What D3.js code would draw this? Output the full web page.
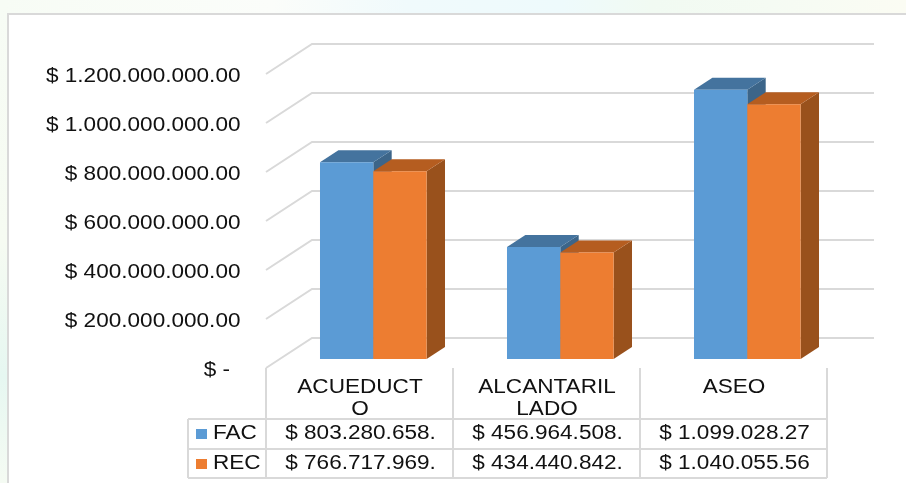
<!DOCTYPE html>
<html>
<head>
<meta charset="utf-8">
<script src="https://cdn.jsdelivr.net/npm/d3@7/dist/d3.min.js"></script>
<style>
  html, body { margin: 0; padding: 0; background: #fff; overflow: hidden; }
  svg { display: block; filter: blur(0.6px); }
  text { font-family: "Liberation Sans", Arial, sans-serif; font-size: 21px; fill: #111; }
</style>
</head>
<body>
<div id="chart"></div>
<script>
/** Chart data */
const categories = ["ACUEDUCTO", "ALCANTARILLADO", "ASEO"];
const categoryLines = [["ACUEDUCT", "O"], ["ALCANTARIL", "LADO"], ["ASEO"]];
const seriesNames = ["FAC", "REC"];
const facValues = [803280658, 456964508, 1099028270];
const recValues = [766717969, 434440842, 1040055560];
const facLabels = ["$ 803.280.658.", "$ 456.964.508.", "$ 1.099.028.27"];
const recLabels = ["$ 766.717.969.", "$ 434.440.842.", "$ 1.040.055.56"];
const yTicks = [0, 200000000, 400000000, 600000000, 800000000, 1000000000, 1200000000];
const yTickLabels = ["$ -", "$ 200.000.000.00", "$ 400.000.000.00", "$ 600.000.000.00", "$ 800.000.000.00", "$ 1.000.000.000.00", "$ 1.200.000.000.00"];

/** Graph configs */
const width = 906;
const height = 483;
const floorLeft = 266;
const floorRight = 827;
const floorY = 368;
const topY = 74;
const depthX = 46;
const depthY = 30;
const barDepthStart = 0.3;
const barDepthEnd = 0.7;
const textStretch = 1.075; // the picture is a bit wider than tall
const gridColor = "#d9d9d9";

const colors = {
  FAC: { front: "#5b9bd5", top: "#44739e", side: "#3c6589" },
  REC: { front: "#ed7d31", top: "#b55d20", side: "#99511c" },
};

const seriesValues = { FAC: facValues, REC: recValues };
const seriesLabels = { FAC: facLabels, REC: recLabels };

/** Scales */
const xScale = d3.scaleBand().domain(categories).range([floorLeft, floorRight]);
const xInner = d3
  .scaleBand()
  .domain(seriesNames)
  .range([0, xScale.bandwidth()])
  .paddingInner(0)
  .paddingOuter(0.754);
const yScale = d3.scaleLinear().domain([0, 1200000000]).range([floorY, topY]);

/** Project a point on the floor to a given depth (0 = front, 1 = back wall) */
const project = (x, y, z) => [x + depthX * z, y - depthY * z];

const svg = d3
  .select("#chart")
  .append("svg")
  .attr("width", width)
  .attr("height", height);

/** Washed out page background */
const defs = svg.append("defs");
const topWash = defs.append("linearGradient").attr("id", "top-wash");
[
  [0, "#f7fcf5"],
  [0.3, "#fbfdfa"],
  [0.45, "#f0fafc"],
  [0.62, "#eefafc"],
  [0.72, "#f1faf2"],
  [0.85, "#f5fbf3"],
  [1, "#fbfcf3"],
].forEach(([o, c]) => topWash.append("stop").attr("offset", o).attr("stop-color", c));
const leftWash = defs
  .append("linearGradient")
  .attr("id", "left-wash")
  .attr("x1", 0)
  .attr("x2", 0)
  .attr("y1", 0)
  .attr("y2", 1);
[
  [0, "#f7fcf5"],
  [0.5, "#f6fbf2"],
  [0.78, "#e6f7f1"],
  [1, "#f5fbf3"],
].forEach(([o, c]) => leftWash.append("stop").attr("offset", o).attr("stop-color", c));

svg.append("rect").attr("width", width).attr("height", 14).attr("fill", "url(#top-wash)");
svg.append("rect").attr("width", 8).attr("height", height).attr("fill", "url(#left-wash)");

/** Chart frame, runs off the right and bottom of the picture */
svg
  .append("rect")
  .attr("x", 8)
  .attr("y", 14)
  .attr("width", width + 20)
  .attr("height", height + 20)
  .attr("fill", "#fff")
  .attr("stroke", gridColor)
  .attr("stroke-width", 2);

/** Text helper, stretches horizontally around the anchor */
const addText = (parent, x, y, str, anchor = "middle") =>
  parent
    .append("text")
    .attr("transform", `translate(${x},${y}) scale(${textStretch},1)`)
    .attr("text-anchor", anchor)
    .text(str);

/** Gridlines: side wall stub then back wall */
const line = d3.line();
svg
  .append("g")
  .selectAll("path")
  .data(yTicks)
  .enter()
  .append("path")
  .attr("fill", "none")
  .attr("stroke", gridColor)
  .attr("stroke-width", 2)
  .attr("d", (d) =>
    line([
      [floorLeft, yScale(d)],
      project(floorLeft, yScale(d), 1),
      project(floorRight + 1, yScale(d), 1),
    ])
  );

/** Y axis labels */
const yLabels = svg.append("g");
yTicks.forEach((tick, i) => {
  const right = tick === 0 ? 230 : 240.5;
  addText(yLabels, right, yScale(tick) + 7.5, yTickLabels[i], "end");
});

/** Bars, FAC first so that REC overlaps it */
const face = (x0, x1, y0, y1, z0, z1) =>
  line([project(x0, y0, z0), project(x1, y1, z0), project(x1, y1, z1), project(x0, y0, z1)]) + "Z";

seriesNames.forEach((name) => {
  const barData = categories.map((c, i) => ({ c, value: seriesValues[name][i] }));
  const left = (d) => xScale(d.c) + xInner(name);
  const right = (d) => left(d) + xInner.bandwidth();
  const g = svg.append("g").selectAll("g").data(barData).enter().append("g");

  /** Right side */
  g.append("path")
    .attr("fill", colors[name].side)
    .attr("d", (d) =>
      line([
        project(right(d), yScale(0), barDepthStart),
        project(right(d), yScale(0), barDepthEnd),
        project(right(d), yScale(d.value), barDepthEnd),
        project(right(d), yScale(d.value), barDepthStart),
      ]) + "Z"
    );

  /** Top */
  g.append("path")
    .attr("fill", colors[name].top)
    .attr("d", (d) =>
      face(left(d), right(d), yScale(d.value), yScale(d.value), barDepthStart, barDepthEnd)
    );

  /** Front */
  g.append("path")
    .attr("fill", colors[name].front)
    .attr("d", (d) =>
      line([
        project(left(d), yScale(0), barDepthStart),
        project(right(d), yScale(0), barDepthStart),
        project(right(d), yScale(d.value), barDepthStart),
        project(left(d), yScale(d.value), barDepthStart),
      ]) + "Z"
    );
});

/** Data table */
const tableLeft = 188;
const rowTops = [419, 449, 478];
const table = svg.append("g");

const addRule = (x1, y1, x2, y2) =>
  table
    .append("line")
    .attr("x1", x1)
    .attr("y1", y1)
    .attr("x2", x2)
    .attr("y2", y2)
    .attr("stroke", gridColor)
    .attr("stroke-width", 2);

rowTops.forEach((y) => addRule(tableLeft, y, floorRight, y));
addRule(tableLeft, rowTops[0], tableLeft, rowTops[2]);
addRule(floorLeft, floorY, floorLeft, rowTops[2]);
categories.forEach((c) => addRule(xScale(c) + xScale.step(), floorY, xScale(c) + xScale.step(), rowTops[2]));

categories.forEach((c, i) => {
  const cx = xScale(c) + xScale.bandwidth() / 2 + 0.5;
  categoryLines[i].forEach((str, j) => addText(table, cx, 393 + j * 22, str));
});

seriesNames.forEach((name, r) => {
  const baseline = rowTops[r] + 20;
  table
    .append("rect")
    .attr("x", 196)
    .attr("y", rowTops[r] + 10)
    .attr("width", 11)
    .attr("height", 10)
    .attr("fill", colors[name].front);
  addText(table, 213, baseline, name, "start");
  categories.forEach((c, i) => {
    addText(table, xScale(c) + xScale.bandwidth() / 2 + 1, baseline, seriesLabels[name][i]);
  });
});
</script>
</body>
</html>
